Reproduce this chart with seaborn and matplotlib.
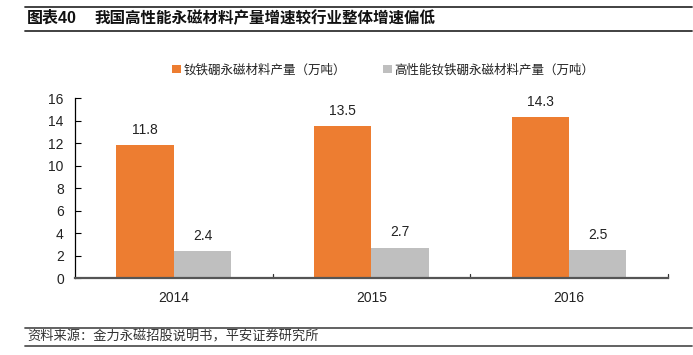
import matplotlib
matplotlib.use("Agg")
import matplotlib.pyplot as plt
import seaborn as sns
import pandas as pd
from matplotlib.patches import Patch
from matplotlib.lines import Line2D

years = ["2014", "2015", "2016"]
series_names = ["钕铁硼永磁材料产量（万吨）", "高性能钕铁硼永磁材料产量（万吨）"]
ndfeb = [11.8, 13.5, 14.3]
high_perf = [2.4, 2.7, 2.5]
yticks = [0, 2, 4, 6, 8, 10, 12, 14, 16]
title_tag = "图表40"
title = "我国高性能永磁材料产量增速较行业整体增速偏低"
source = "资料来源：金力永磁招股说明书，平安证券研究所"

colors = ["#ED7D31", "#BFBFBF"]

sns.set_theme(style="white")
plt.rcParams['font.family'] = ['Liberation Sans', 'Noto Sans CJK SC', 'DejaVu Sans']

df = pd.DataFrame({
    "year": years * 2,
    "series": [series_names[0]] * 3 + [series_names[1]] * 3,
    "value": ndfeb + high_perf,
})

fig = plt.figure(figsize=(6.93, 3.55), dpi=100)
ax = fig.add_axes([0.1082, 0.2169, 0.8557, 0.507])

sns.barplot(data=df, x="year", y="value", hue="series", palette=colors,
            width=0.58, gap=0, ax=ax, legend=False, saturation=1, edgecolor="none")

for cont in ax.containers:
    ax.bar_label(cont, fmt="%.1f", padding=6, fontsize=10, color="#222222")

ax.set_ylim(0, 16)
ax.set_yticks(yticks)
ax.set_xlim(-0.5, 2.5)
ax.set_xlabel("")
ax.set_ylabel("")
ax.tick_params(axis="y", direction="in", length=4, width=0.8, color="black",
               labelsize=10, pad=8, left=True, labelcolor="#222222")
ax.set_xticks([0, 1, 2])
ax.set_xticklabels(years)
ax.tick_params(axis="x", length=0, labelsize=10, pad=9, labelcolor="#222222")
# category boundary ticks
for b in [0.5, 1.5, 2.5]:
    ax.plot([b, b], [0, 0.35], color="#333333", lw=0.9, clip_on=False)

for s in ["top", "right"]:
    ax.spines[s].set_visible(False)
ax.spines["left"].set_color("black")
ax.spines["left"].set_linewidth(0.9)
ax.spines["bottom"].set_color("#555555")
ax.spines["bottom"].set_linewidth(1.6)

handles = [Patch(facecolor=colors[0], edgecolor="none"),
           Patch(facecolor=colors[1], edgecolor="none")]
fig.legend(handles, series_names, loc="center", bbox_to_anchor=(0.553, 0.802),
           ncol=2, frameon=False, fontsize=9, handlelength=0.7, handleheight=0.7,
           handletextpad=0.2, columnspacing=3.0, labelcolor="#222222")

# header lines and title
for yy in [1 - 6.5 / 355, 1 - 30.5 / 355]:
    fig.add_artist(Line2D([25 / 693, 692 / 693], [yy, yy], color="#333333", lw=1.3))
fig.text(27 / 693, 1 - 18.5 / 355, title_tag, fontsize=11.5, fontweight="bold",
         va="center", ha="left", color="#111111")
fig.text(95 / 693, 1 - 18.5 / 355, title, fontsize=11.2, fontweight="bold",
         va="center", ha="left", color="#111111")

# footer lines and source
for yy in [1 - 328 / 355, 1 - 346 / 355]:
    fig.add_artist(Line2D([25 / 693, 692 / 693], [yy, yy], color="#555555", lw=1.3))
fig.text(27 / 693, 1 - 337 / 355, source, fontsize=9.5, style="italic",
         va="center", ha="left", color="#333333")

fig.savefig("out.png", dpi=100)
